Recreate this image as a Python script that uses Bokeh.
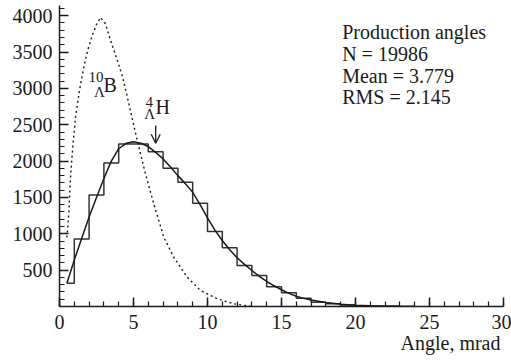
import numpy as np
from bokeh.plotting import figure
from bokeh.models import Range1d, FixedTicker, Label, Arrow, OpenHead, Title
from bokeh.embed import file_html
from bokeh.resources import INLINE

# ---- data ----
hist_edges = [0.5] + list(range(1, 25))
hist_counts = [320, 930, 1535, 1975, 2236, 2236, 2130, 1901, 1709, 1420, 1031, 807,
               564, 426, 270, 190, 114, 60, 37, 20, 10, 5, 3, 1]

fit_x = [0.5, 1, 1.5, 2, 2.5, 3, 3.5, 4, 4.5, 5, 5.5, 6, 6.5, 7, 7.5, 8, 8.5, 9, 9.5,
         10, 10.5, 11, 11.5, 12, 12.5, 13, 13.5, 14, 14.5, 15, 15.5, 16, 16.5, 17,
         18, 19, 20, 21, 22, 23, 24]
fit_y = [320, 640, 940, 1230, 1500, 1760, 2000, 2170, 2245, 2265, 2245, 2200, 2120,
         2030, 1920, 1800, 1690, 1570, 1400, 1220, 1050, 907, 780, 670, 580, 495, 415,
         344, 285, 230, 180, 140, 112, 90, 55, 32, 18, 10, 5, 2, 1]

b10_x = [0.5, 0.63, 0.74, 0.9, 1.08, 1.35, 1.64, 1.9, 2.2, 2.5, 2.77, 3.1, 3.45, 3.85,
         4.24, 4.63, 5.02, 5.4, 5.81, 6.37, 7.05, 7.72, 8.63, 9.53, 10.65, 11.78, 13.0]
b10_y = [950, 1275, 1770, 2200, 2600, 2970, 3290, 3520, 3720, 3880, 3975, 3890, 3660,
         3420, 3175, 2840, 2488, 2160, 1824, 1412, 953, 678, 403, 220, 106, 37, 0]

x_major = [0, 5, 10, 15, 20, 25, 30]
x_minor = list(range(0, 31))
y_major = [500, 1000, 1500, 2000, 2500, 3000, 3500, 4000]
y_minor = list(range(0, 4200, 100))

stats_lines = ["Production angles", "N = 19986", "Mean = 3.779", "RMS = 2.145"]
x_title = "Angle, mrad"

FONT = "'Liberation Serif', 'Times New Roman', serif"
INK = "#1a1a1a"

p = figure(width=511, height=360, output_backend="svg", toolbar_location=None,
           x_range=Range1d(0, 30), y_range=Range1d(0, 4140),
           min_border_left=59, min_border_right=8, min_border_top=5,
           min_border_bottom=54)
p.outline_line_color = None
p.xgrid.visible = False
p.ygrid.visible = False
p.background_fill_color = "white"

for ax, maj, mnr in ((p.xaxis[0], x_major, x_minor), (p.yaxis[0], y_major, y_minor)):
    ax.ticker = FixedTicker(ticks=maj, minor_ticks=mnr)
    ax.axis_line_color = INK
    ax.axis_line_width = 1.5
    ax.major_tick_line_color = INK
    ax.minor_tick_line_color = INK
    ax.major_tick_line_width = 1.5
    ax.minor_tick_line_width = 1.2
    ax.major_tick_in = 9
    ax.major_tick_out = 0
    ax.minor_tick_in = 5
    ax.minor_tick_out = 0
    ax.major_label_text_font = FONT
    ax.major_label_text_font_size = "20px"
    ax.major_label_text_color = INK
p.xaxis[0].major_label_standoff = 8
p.yaxis[0].major_label_standoff = 7

p.add_layout(Title(text=x_title, align="right", vertical_align="top", offset=3,
                   text_font=FONT, text_font_size="20px", text_font_style="normal",
                   text_color=INK, standoff=0), "below")

# histogram outline (step)
hx = np.repeat(np.array(hist_edges, dtype=float), 2)[1:-1]
hy = np.repeat(np.array(hist_counts, dtype=float), 2)
p.line(hx, hy, line_color="#333333", line_width=1.5)

# fit curve
p.line(fit_x, fit_y, line_color=INK, line_width=1.5)

# 10-Lambda-B curve
p.line(b10_x, b10_y, line_color=INK, line_width=1.4, line_dash="2 3")

def lab(x, y, text, size, align="left", baseline="middle"):
    p.add_layout(Label(x=x, y=y, text=text, text_font=FONT, text_font_size=size,
                       text_color=INK, text_align=align, text_baseline=baseline))

# nucleus labels
lab(1.96, 3150, "10", "15px")
lab(2.33, 2944, "\u039b", "15px")
lab(2.97, 3040, "B", "20px")
lab(5.81, 2813, "4", "15px")
lab(5.72, 2641, "\u039b", "15px")
lab(6.49, 2744, "H", "20px")

p.add_layout(Arrow(end=OpenHead(size=9, line_color=INK, line_width=1.3),
                   x_start=6.5, y_start=2490, x_end=6.5, y_end=2245,
                   line_color=INK, line_width=1.3))

# stats box
stat_y = [3773, 3476, 3177, 2879]
for t, yy in zip(stats_lines, stat_y):
    lab(19.1, yy, t, "20px", baseline="alphabetic")

open("out.html", "w").write(file_html(p, INLINE))
